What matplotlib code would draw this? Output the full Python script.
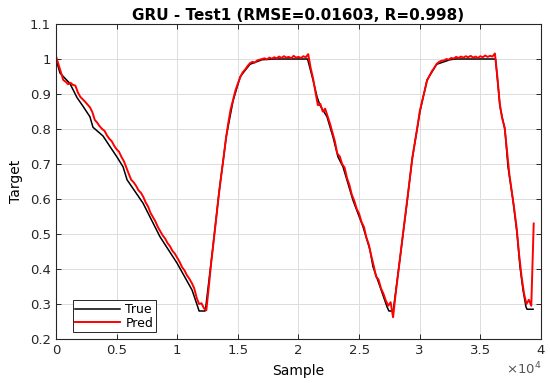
import numpy as np
from matplotlib import pyplot as plt
from matplotlib.ticker import FuncFormatter

# true target at its corners
true_sample = [0, 330, 1150, 1730, 2230, 2800, 3050, 3880, 4450, 5030,
               5530, 5860, 7180, 8580, 9980, 11220, 11710, 11800, 12290, 12350,
               12900, 13450, 14050, 14600, 15200, 16000, 17000, 18000, 20750, 21200,
               21530, 21770, 22350, 22840, 23260, 23670, 24000, 24490, 25320, 25900,
               26140, 26720, 27300, 27460, 27790, 27850, 28370, 28950, 29360, 30020,
               30600, 31400, 32500, 33000, 36250, 36620, 37030, 37280, 37690, 38020,
               38270, 38520, 38760, 38850, 39350]
true_target = [1.00, 0.96, 0.93, 0.89, 0.865, 0.835, 0.805, 0.78, 0.75, 0.72,
               0.692, 0.655, 0.588, 0.492, 0.417, 0.34, 0.29, 0.28, 0.28, 0.29,
               0.45, 0.62, 0.78, 0.88, 0.95, 0.985, 0.998, 1.0, 1.0, 0.94,
               0.892, 0.868, 0.835, 0.778, 0.72, 0.692, 0.654, 0.597, 0.521, 0.454,
               0.407, 0.35, 0.292, 0.28, 0.28, 0.29, 0.43, 0.59, 0.71, 0.85,
               0.94, 0.985, 0.998, 1.0, 1.0, 0.864, 0.797, 0.692, 0.597, 0.503,
               0.406, 0.34, 0.292, 0.285, 0.285]

# prediction, one value every 200 samples
pred_sample = np.arange(0, 39600, 200)
pred_target = [
    1.008, 0.985, 0.962, 0.940, 0.935, 0.928, 0.932, 0.926, 0.924, 0.905,
    0.892, 0.885, 0.878, 0.870, 0.862, 0.848, 0.826, 0.818, 0.808, 0.800,
    0.795, 0.782, 0.772, 0.765, 0.752, 0.742, 0.735, 0.720, 0.708, 0.690,
    0.672, 0.655, 0.648, 0.638, 0.625, 0.618, 0.606, 0.590, 0.578, 0.560,
    0.548, 0.536, 0.520, 0.508, 0.496, 0.487, 0.474, 0.465, 0.452, 0.444,
    0.432, 0.420, 0.405, 0.396, 0.382, 0.372, 0.360, 0.345, 0.318, 0.300,
    0.302, 0.288, 0.282, 0.348, 0.418, 0.478, 0.540, 0.603, 0.660, 0.712,
    0.768, 0.815, 0.855, 0.882, 0.910, 0.930, 0.948, 0.962, 0.970, 0.980,
    0.988, 0.992, 0.990, 0.996, 0.998, 1.000, 1.002, 0.999, 1.004, 1.001,
    1.005, 1.002, 1.007, 1.003, 1.008, 1.004, 1.006, 1.002, 1.009, 1.004,
    1.006, 1.003, 1.008, 1.005, 1.014, 0.975, 0.945, 0.905, 0.868, 0.872,
    0.850, 0.858, 0.836, 0.815, 0.790, 0.765, 0.730, 0.722, 0.700, 0.690,
    0.660, 0.640, 0.612, 0.595, 0.572, 0.558, 0.534, 0.520, 0.490, 0.470,
    0.438, 0.410, 0.378, 0.370, 0.345, 0.330, 0.310, 0.295, 0.305, 0.262,
    0.325, 0.382, 0.440, 0.495, 0.550, 0.606, 0.664, 0.720, 0.762, 0.804,
    0.850, 0.880, 0.908, 0.938, 0.952, 0.965, 0.975, 0.986, 0.992, 0.995,
    0.996, 1.000, 0.998, 1.003, 1.001, 1.006, 1.003, 1.007, 1.004, 1.008,
    1.005, 1.009, 1.004, 1.007, 1.003, 1.008, 1.005, 1.010, 1.006, 1.009,
    1.007, 1.016, 0.950, 0.872, 0.830, 0.805, 0.735, 0.668, 0.620, 0.570,
    0.515, 0.440, 0.378, 0.330, 0.300, 0.312, 0.295, 0.530,
]

x_ticks = [0, 5000, 10000, 15000, 20000, 25000, 30000, 35000, 40000]
y_ticks = [0.2, 0.3, 0.4, 0.5, 0.6, 0.7, 0.8, 0.9, 1.0, 1.1]

edge = '#262626'

fig = plt.figure(figsize=(5.5, 3.83), dpi=100)
ax = fig.add_axes([0.1018, 0.1149, 0.8818, 0.8224])

ax.plot(true_sample, true_target, color='k', lw=1.1, label='True')
ax.plot(pred_sample, pred_target, color='red', lw=1.4, label='Pred')

ax.set_xlim(0, 40000)
ax.set_ylim(0.2, 1.1)
ax.set_xticks(x_ticks)
ax.set_yticks(y_ticks)
ax.xaxis.set_major_formatter(FuncFormatter(lambda v, p: '%g' % (v / 1e4)))
ax.yaxis.set_major_formatter(FuncFormatter(lambda v, p: '%g' % round(v, 2)))

ax.grid(True, color='#dcdcdc', lw=0.7)
ax.set_axisbelow(True)
ax.tick_params(direction='in', top=True, right=True, length=3.5,
               width=0.7, colors=edge, labelsize=9.5)
for s in ax.spines.values():
    s.set_color(edge)
    s.set_linewidth(0.8)

ax.set_title('GRU - Test1 (RMSE=0.01603, R=0.998)', fontsize=11,
             fontweight='bold', pad=3)
ax.set_xlabel('Sample', fontsize=10, labelpad=5)
ax.set_ylabel('Target', fontsize=10, labelpad=5)
ax.text(1.0, -0.095, r'$\times10^{4}$', transform=ax.transAxes,
        ha='right', va='center', fontsize=9.5, color='#555555')

leg = ax.legend(loc='lower left', bbox_to_anchor=(0.035, 0.022),
                borderaxespad=0, fontsize=9, fancybox=False,
                edgecolor=edge, framealpha=1, handlelength=3.6,
                labelspacing=0.05, borderpad=0.2, handletextpad=0.4)
leg.get_frame().set_linewidth(0.7)

fig.savefig('out.png', dpi=100)
